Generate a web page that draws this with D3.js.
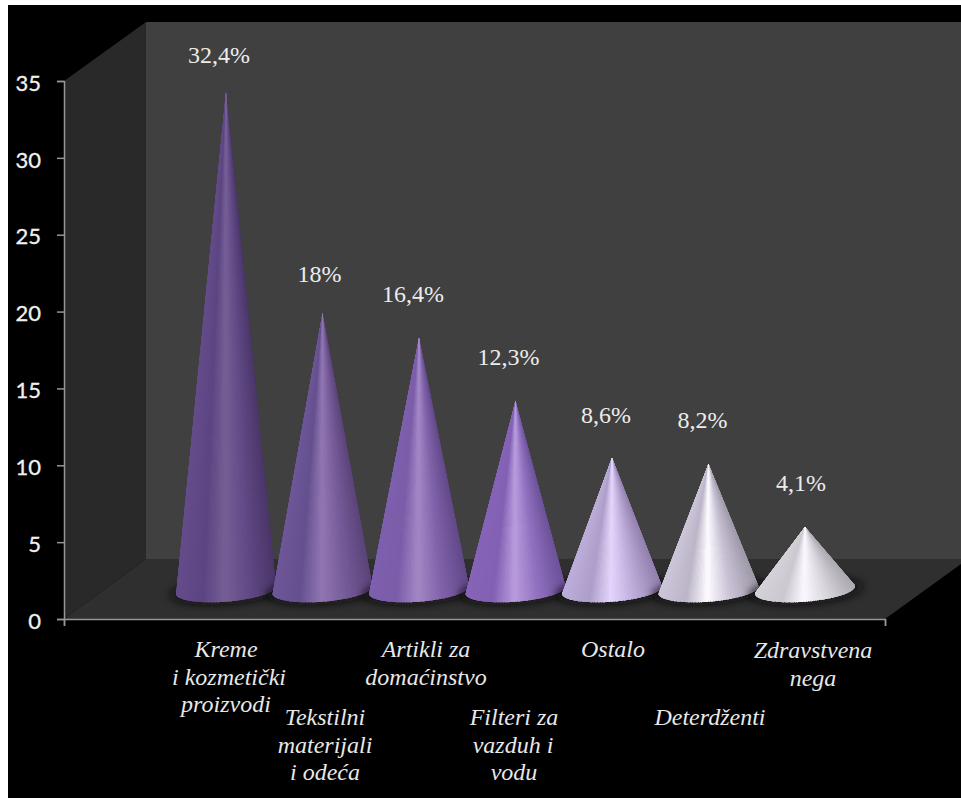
<!DOCTYPE html>
<html>
<head>
<meta charset="utf-8">
<script src="https://cdn.jsdelivr.net/npm/d3@7/dist/d3.min.js"></script>
<style>
  html, body { margin: 0; padding: 0; background: #fff; }
  svg { display: block; }
</style>
</head>
<body>
<svg id="chart" width="961" height="798"></svg>
<script>
// Product categories and their shares, in percent
const categories = ["Kreme i kozmetički proizvodi", "Tekstilni materijali i odeća", "Artikli za domaćinstvo",
  "Filteri za vazduh i vodu", "Ostalo", "Deterdženti", "Zdravstvena nega"];
const shares = [32.4, 18, 16.4, 12.3, 8.6, 8.2, 4.1];
const shareLabels = ["32,4%", "18%", "16,4%", "12,3%", "8,6%", "8,2%", "4,1%"];
const categoryLines = [
  ["Kreme", "i kozmetički", "proizvodi"],
  ["Tekstilni", "materijali", "i odeća"],
  ["Artikli za", "domaćinstvo"],
  ["Filteri za", "vazduh i", "vodu"],
  ["Ostalo"],
  ["Deterdženti"],
  ["Zdravstvena", "nega"]
];
const yTicks = [0, 5, 10, 15, 20, 25, 30, 35];

// Shading across each cone, from left silhouette to right silhouette
const coneShades = [
  ["#644c8a", "#5b4581", "#755d95", "#604985", "#4a3568"],
  ["#6e5698", "#64508e", "#9075b2", "#765b99", "#5a4378"],
  ["#7e5fae", "#7a5ca8", "#a286c4", "#8062aa", "#614888"],
  ["#8663b8", "#8260b3", "#b89adc", "#8f70bf", "#6c5098"],
  ["#bdadda", "#ad9ec9", "#e3d4fb", "#bcaad8", "#9180ae"],
  ["#ccc6d8", "#bcb5c8", "#fdfaff", "#c8c1d4", "#9e99a8"],
  ["#d4d1d8", "#cbc8cf", "#fbf7ff", "#d8d5dc", "#acA9b0"]
];

// Label placement: tiers under the floor, and small nudges for the percentages
const labelBaselines = [657, 725, 657, 725, 657, 725, 658];
const labelCentres = [226, 325, 426, 514, 613, 710, 813];
const lineNudges = [[0, 3, 0], [0, 0, 0], [0, 0], [0, -1, 0], [0], [0], [0, 0]];
const shareNudgeX = [-7, -3, -6, -7, -6, -6, -4];
const shareNudgeY = [-29, -31, -36, -36, -35, -36, -36];

const svg = d3.select("#chart");
const defs = svg.append("defs");
defs.append("filter").attr("id", "soft").attr("x", "-30%").attr("y", "-100%").attr("width", "160%").attr("height", "300%")
  .append("feGaussianBlur").attr("stdDeviation", 4);

// Plot scales: value axis on the front plane, cones standing deeper on the floor
const y = d3.scaleLinear().domain([0, 35]).range([619, 81]);
const x = d3.scalePoint().domain(categories).range([226, 805]);
const frontX = d3.scaleLinear().domain([0, 1]).range([64, 885]);
const depthShift = 29;
const baseRx = 50, baseRy = 11.7, baseTilt = -4.5 * Math.PI / 180;

// Page ground and the three faces of the chart box
svg.append("rect").attr("x", 8).attr("y", 5).attr("width", 953).attr("height", 793).attr("fill", "#000");
const box = svg.append("g");
const wallX = 146, wallTop = 22, floorBack = 559;
const face = d3.line();
box.append("rect").attr("x", wallX).attr("y", wallTop).attr("width", 961 - wallX).attr("height", floorBack - wallTop).attr("fill", "#404040");
box.append("path").attr("fill", "#292929")
  .attr("d", face([[frontX(0), y(35)], [wallX, wallTop], [wallX, floorBack], [frontX(0), y(0)]]) + "Z");
box.append("path").attr("fill", "#2f2f2f")
  .attr("d", face([[frontX(0), y(0)], [wallX, floorBack], [961, floorBack], [961, 564], [frontX(1), y(0)]]) + "Z");

// Axes
const axisColor = "#969696";
const yAxis = svg.append("g").attr("transform", `translate(${frontX(0)},0)`)
  .call(d3.axisLeft(y).tickValues(yTicks).tickSize(7).tickPadding(16));
const xAxis = svg.append("g").attr("transform", `translate(0,${y(0)})`)
  .call(d3.axisBottom(frontX).tickValues([0, 1]).tickFormat("").tickSize(7));
[yAxis, xAxis].forEach(g => {
  g.selectAll("path").attr("stroke", axisColor).attr("stroke-width", 1.5).attr("fill", "none");
  g.selectAll("line").attr("stroke", axisColor).attr("stroke-width", 1.5);
});
yAxis.selectAll("text").attr("fill", "#f0f0f0").attr("stroke", "#f0f0f0").attr("stroke-width", 0.3)
  .attr("font-family", "Lato, sans-serif").attr("font-size", 22).attr("dy", "0.42em");

// One cone: a fan of slices from the tip round the visible part of the base
const rows = categories.map((c, i) => ({ c, i, v: shares[i], tipY: y(shares[i]) - depthShift, cx: x(c), baseY: y(0) - depthShift }));
const cones = svg.append("g").selectAll("g").data(rows).join("g");

cones.append("ellipse")
  .attr("cx", d => d.cx + 1).attr("cy", d => d.baseY + 1)
  .attr("rx", baseRx + 7).attr("ry", baseRy + 1.5)
  .attr("transform", d => `rotate(-4.5 ${d.cx} ${d.baseY})`)
  .attr("fill", "#0c0c0c").attr("opacity", 0.85).attr("filter", "url(#soft)");

function basePoint(d, t) {
  const px = baseRx * Math.cos(t), py = baseRy * Math.sin(t);
  return [d.cx + px * Math.cos(baseTilt) - py * Math.sin(baseTilt),
          d.baseY + px * Math.sin(baseTilt) + py * Math.cos(baseTilt)];
}
function rim(d) {
  const lift = Math.asin(Math.min(1, baseRy / (d.baseY - d.tipY)));
  return d3.range(0, 101).map(k => basePoint(d, -lift + (Math.PI + 2 * lift) * k / 100));
}

cones.each(function (d) {
  const g = d3.select(this);
  const pts = rim(d);
  const id = "cone-clip-" + d.i;
  defs.append("clipPath").attr("id", id).append("path")
    .attr("d", face([[d.cx, d.tipY], ...pts]) + "Z");
  const shade = d3.scaleLinear().domain([-1, -0.45, -0.02, 0.45, 1]).range(coneShades[d.i]).clamp(true);
  const tone = s => shade(((s[0][0] + s[1][0]) / 2 - d.cx) / baseRx);
  // Slices run back to front so each one covers the seam of the one before it
  const slices = d3.pairs(pts).sort((a, b) => Math.abs((b[0][0] + b[1][0]) / 2 - d.cx) - Math.abs((a[0][0] + a[1][0]) / 2 - d.cx));
  // A short pad past the rim keeps the clip in charge of the outline
  const reach = s => s.map(p => [d.cx + (p[0] - d.cx) * 1.03, d.tipY + (p[1] - d.tipY) * 1.03]);
  g.append("g").attr("clip-path", `url(#${id})`)
    .selectAll("path").data(slices).join("path")
    .attr("shape-rendering", "crispEdges")
    .attr("d", s => { const r = reach(s); return face([[d.cx, d.tipY], r[0], r[1]]) + "Z"; })
    .attr("fill", tone)
    .attr("stroke", tone)
    .attr("stroke-width", 1);
});

// Percentages above the tips
svg.append("g").selectAll("text").data(rows).join("text")
  .attr("x", d => d.cx + shareNudgeX[d.i])
  .attr("y", d => d.tipY + shareNudgeY[d.i])
  .attr("text-anchor", "middle").attr("fill", "#ececec")
  .attr("font-family", "'Liberation Serif', serif").attr("font-size", 24)
  .text(d => shareLabels[d.i]);

// Category names on staggered tiers
const names = svg.append("g").selectAll("text").data(rows).join("text")
  .attr("text-anchor", "middle").attr("fill", "#e8e8e8")
  .attr("font-family", "'Liberation Serif', serif").attr("font-style", "italic").attr("font-size", 24);
names.selectAll("tspan").data(d => categoryLines[d.i].map((t, n) => ({ t, n, d }))).join("tspan")
  .attr("x", l => labelCentres[l.d.i] + lineNudges[l.d.i][l.n])
  .attr("y", l => labelBaselines[l.d.i] + l.n * 27.7)
  .text(l => l.t);
</script>
</body>
</html>
